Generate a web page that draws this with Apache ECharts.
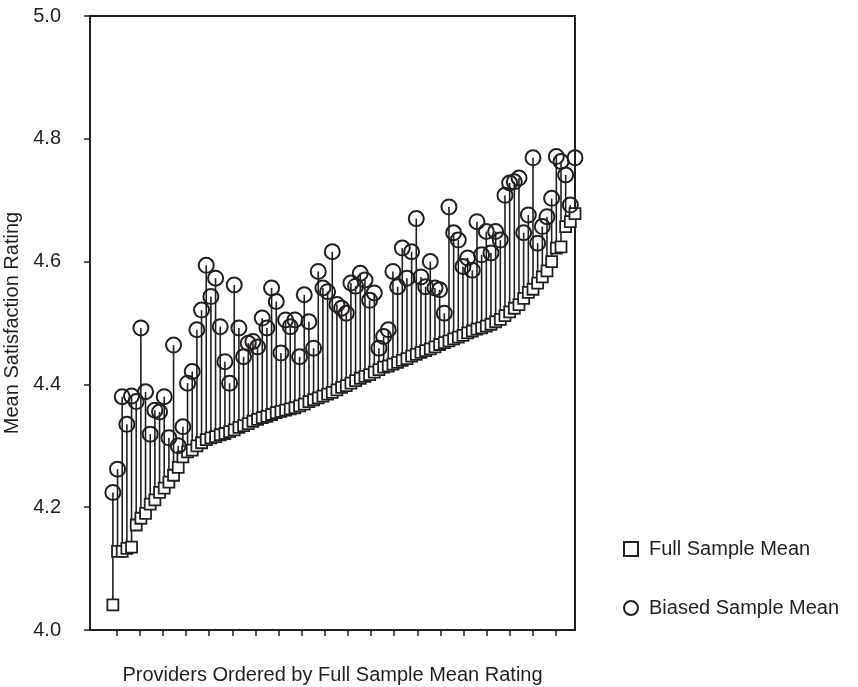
<!DOCTYPE html>
<html>
<head>
<meta charset="utf-8">
<script src="https://cdn.jsdelivr.net/npm/echarts@6/dist/echarts.min.js"></script>
<style>
  html, body { margin: 0; padding: 0; background: #fff; }
  #chart { width: 858px; height: 687px; }
</style>
</head>
<body>
<div id="chart"></div>
<script>
  // providers, ordered by full sample mean
  var fullMean = [
    4.041, 4.128, 4.128, 4.133, 4.135, 4.171, 4.182, 4.190, 4.205, 4.212,
    4.224, 4.231, 4.241, 4.252, 4.265, 4.282, 4.290, 4.293, 4.300, 4.305,
    4.310, 4.313, 4.315, 4.318, 4.320, 4.323, 4.326, 4.330, 4.333, 4.336,
    4.340, 4.343, 4.346, 4.348, 4.351, 4.354, 4.356, 4.358, 4.360, 4.362,
    4.365, 4.368, 4.372, 4.375, 4.378, 4.381, 4.384, 4.387, 4.391, 4.395,
    4.398, 4.402, 4.406, 4.410, 4.413, 4.416, 4.420, 4.424, 4.428, 4.430,
    4.433, 4.436, 4.439, 4.442, 4.446, 4.449, 4.452, 4.455, 4.458, 4.461,
    4.465, 4.468, 4.471, 4.474, 4.477, 4.480, 4.484, 4.487, 4.490, 4.492,
    4.495, 4.498, 4.502, 4.506, 4.512, 4.518, 4.524, 4.530, 4.540, 4.550,
    4.555, 4.565, 4.575, 4.585, 4.600, 4.622, 4.624, 4.657, 4.665, 4.678
  ];
  var biasedMean = [
    4.224, 4.262, 4.380, 4.335, 4.381, 4.372, 4.492, 4.388, 4.319, 4.358,
    4.355, 4.380, 4.313, 4.464, 4.300, 4.331, 4.402, 4.421, 4.489, 4.521,
    4.594, 4.543, 4.573, 4.494, 4.437, 4.402, 4.562, 4.492, 4.445, 4.467,
    4.470, 4.461, 4.508, 4.492, 4.557, 4.535, 4.451, 4.505, 4.494, 4.505,
    4.445, 4.546, 4.502, 4.459, 4.584, 4.557, 4.551, 4.616, 4.530, 4.524,
    4.516, 4.565, 4.560, 4.581, 4.570, 4.537, 4.549, 4.459, 4.478, 4.489,
    4.584, 4.559, 4.622, 4.573, 4.616, 4.670, 4.575, 4.559, 4.600, 4.557,
    4.554, 4.516, 4.689, 4.647, 4.635, 4.592, 4.606, 4.586, 4.665, 4.611,
    4.649, 4.614, 4.649, 4.635, 4.708, 4.728, 4.730, 4.736, 4.647, 4.676,
    4.769, 4.630, 4.657, 4.673, 4.703, 4.771, 4.763, 4.741, 4.692, 4.769
  ];
  var tickGroups = [1, 2, 3, 4, 5, 6, 7, 8, 9, 10, 11, 12, 13, 14, 15, 16, 17, 18, 19, 20];
  var yTicks = [4.0, 4.2, 4.4, 4.6, 4.8, 5.0];
  var seriesNames = ['Full Sample Mean', 'Biased Sample Mean'];

  var ink = '#231f20';
  var font = 'Liberation Sans, Arial, Helvetica, sans-serif';

  var stems = [], squares = [], circles = [];
  for (var i = 0; i < fullMean.length; i++) {
    stems.push([i + 1, fullMean[i], biasedMean[i]]);
    squares.push([i + 1, fullMean[i]]);
    circles.push([i + 1, biasedMean[i]]);
  }

  var chart = echarts.init(document.getElementById('chart'));
  chart.setOption({
    animation: false,
    backgroundColor: '#fff',
    grid: {
      left: 90, top: 16, width: 485, height: 614,
      outerBoundsMode: 'none', containLabel: false,
      show: true, borderColor: ink, borderWidth: 2, backgroundColor: 'transparent'
    },
    legend: {
      orient: 'vertical',
      left: 618, top: 534,
      itemWidth: 14, itemHeight: 14, itemGap: 39,
      data: seriesNames,
      selectedMode: false,
      textStyle: { fontFamily: font, fontSize: 20, color: ink, padding: [0, 0, 0, 6] }
    },
    xAxis: [{
      // data axis (provider rank)
      type: 'value', min: -3.9, max: 100, show: false, position: 'bottom'
    }, {
      type: 'value', min: -0.155, max: 20.82, position: 'bottom',
      name: 'Providers Ordered by Full Sample Mean Rating',
      nameLocation: 'middle', nameGap: 35,
      nameTextStyle: { fontFamily: font, fontSize: 20, color: ink },
      axisLine: { onZero: false, lineStyle: { color: ink, width: 2 } },
      axisTick: { show: true, length: 6, customValues: tickGroups, lineStyle: { color: ink, width: 1.5 } },
      axisLabel: { show: false },
      splitLine: { show: false }
    }],
    yAxis: {
      type: 'value', min: 4.0, max: 5.0, interval: 0.2,
      name: 'Mean Satisfaction Rating',
      nameLocation: 'middle', nameGap: 67,
      nameTextStyle: { fontFamily: font, fontSize: 20, color: ink },
      axisLine: { show: true, onZero: false, lineStyle: { color: ink, width: 2 } },
      axisTick: { show: true, length: 6, lineStyle: { color: ink, width: 1.5 } },
      axisLabel: {
        margin: 29, fontFamily: font, fontSize: 20, color: ink,
        customValues: yTicks,
        formatter: function (v) { return v.toFixed(1); }
      },
      splitLine: { show: false }
    },
    series: [{
      type: 'custom',
      xAxisIndex: 0,
      clip: false,
      silent: true,
      z: 1,
      encode: { x: 0, y: [1, 2] },
      data: stems,
      renderItem: function (params, api) {
        var p0 = api.coord([api.value(0), api.value(1)]);
        var p1 = api.coord([api.value(0), api.value(2)]);
        return {
          type: 'line',
          shape: { x1: p0[0], y1: p0[1], x2: p1[0], y2: p1[1] },
          style: { stroke: ink, lineWidth: 1.6 }
        };
      }
    }, {
      name: seriesNames[0],
      type: 'scatter',
      xAxisIndex: 0,
      clip: false,
      silent: true,
      z: 2,
      symbol: 'rect',
      symbolSize: 11,
      itemStyle: { color: '#fff', borderColor: ink, borderWidth: 1.8, opacity: 1 },
      data: squares
    }, {
      name: seriesNames[1],
      type: 'scatter',
      xAxisIndex: 0,
      clip: false,
      silent: true,
      z: 3,
      symbol: 'circle',
      symbolSize: 15,
      itemStyle: { color: 'rgba(255,255,255,0)', borderColor: ink, borderWidth: 2, opacity: 1 },
      data: circles
    }]
  });
</script>
</body>
</html>
